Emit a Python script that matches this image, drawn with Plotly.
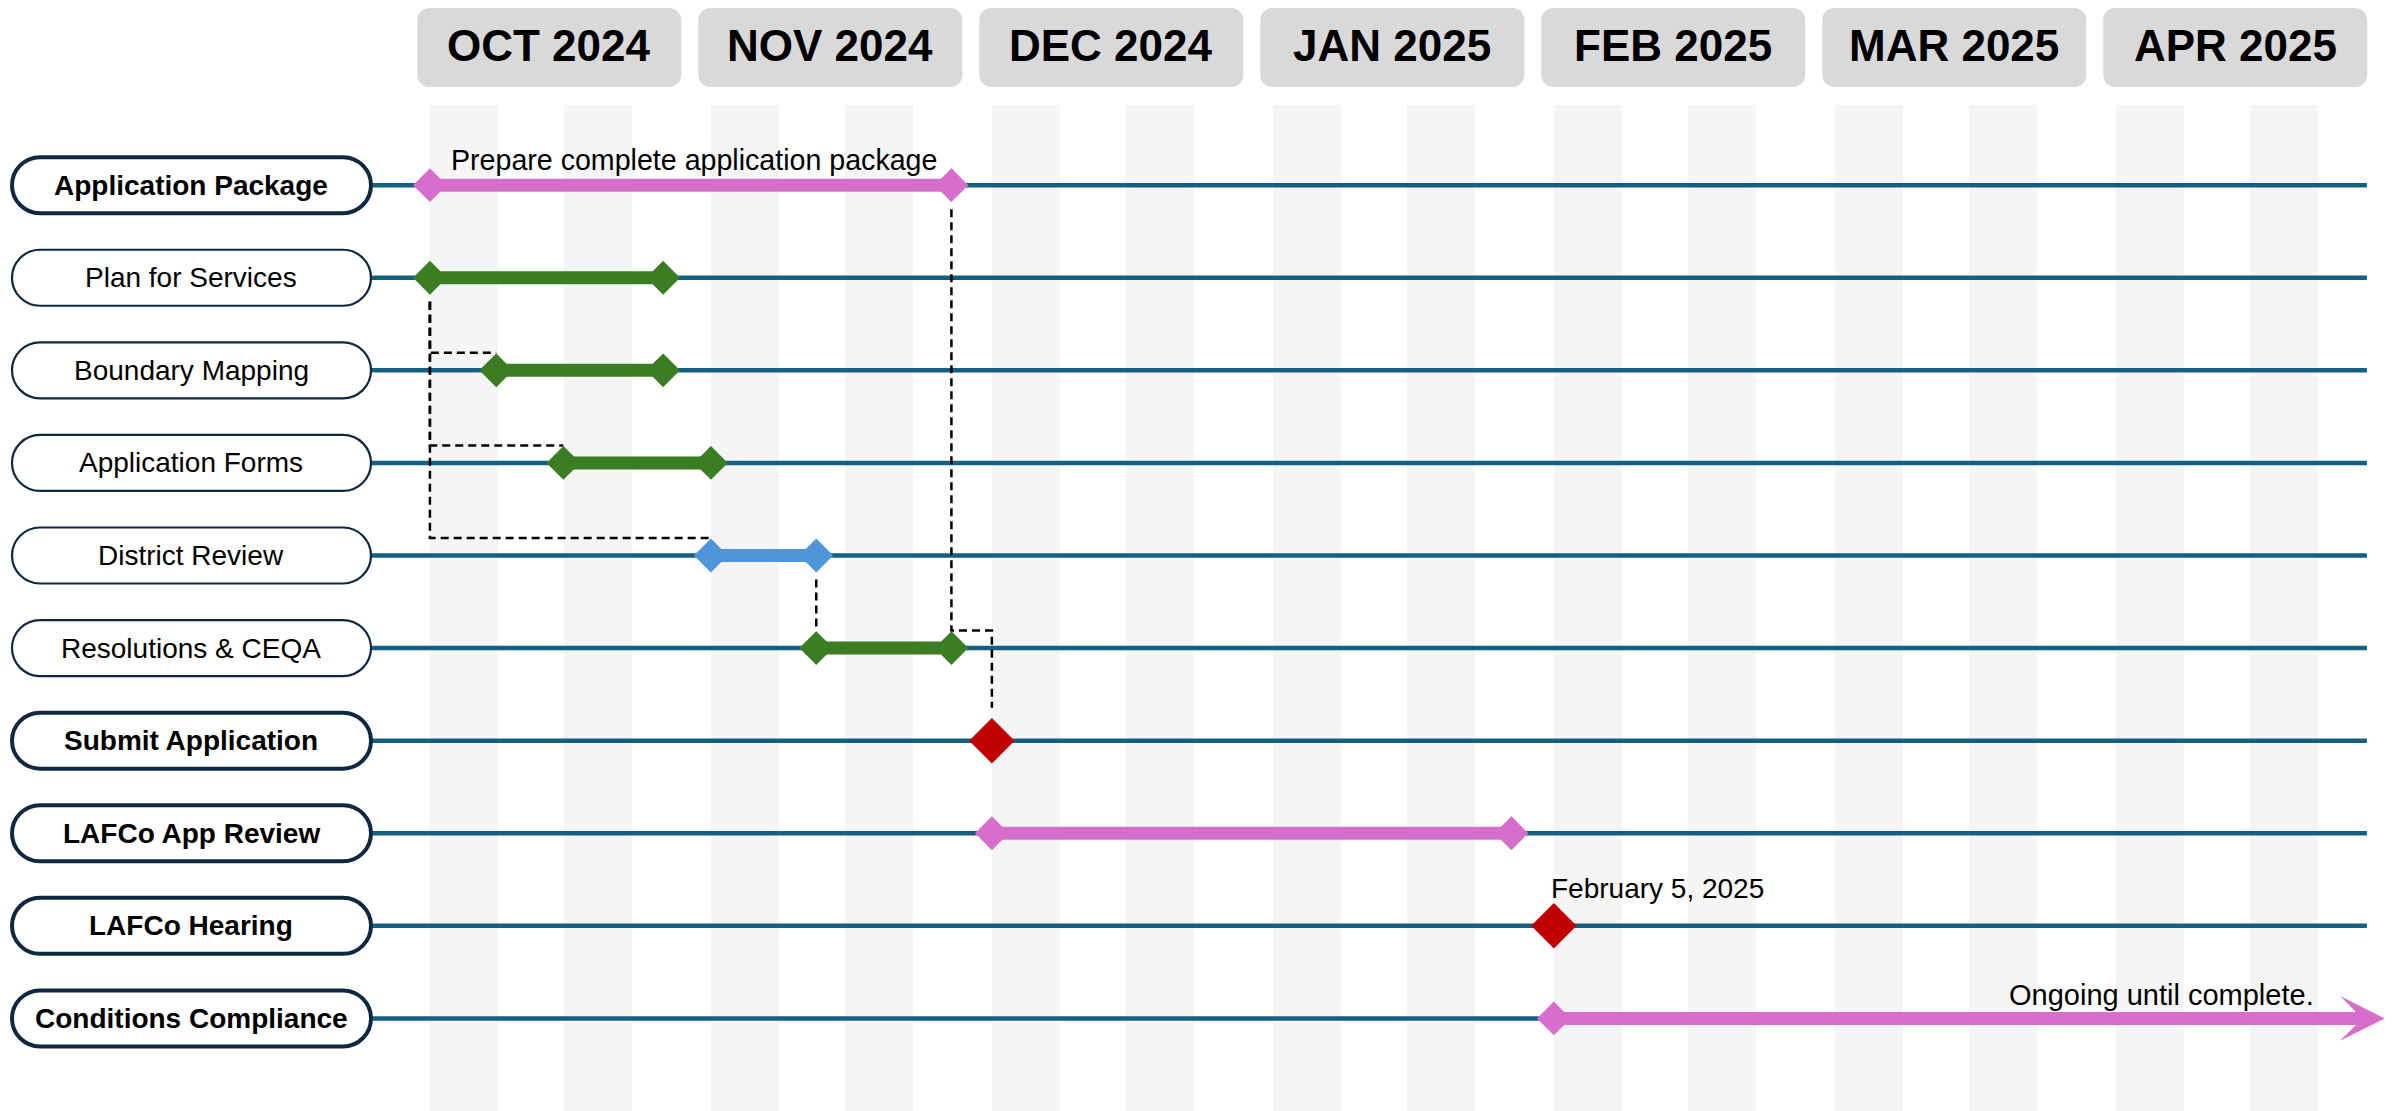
import plotly.graph_objects as go

# ---------------- data ----------------
MONTHS = ["OCT 2024", "NOV 2024", "DEC 2024", "JAN 2025", "FEB 2025", "MAR 2025", "APR 2025"]

ROWS = ["Application Package", "Plan for Services", "Boundary Mapping", "Application Forms",
        "District Review", "Resolutions & CEQA", "Submit Application", "LAFCo App Review",
        "LAFCo Hearing", "Conditions Compliance"]
ROW_BOLD = [True, False, False, False, False, False, True, True, True, True]

# task spans, in months since 1 Oct 2024
TASK_NAMES = ["Application Package", "Plan for Services", "Boundary Mapping", "Application Forms",
              "District Review", "Resolutions & CEQA", "LAFCo App Review", "Conditions Compliance"]
TASK_START = [0.0, 0.0, 0.236, 0.475, 1.0, 1.375, 2.0, 4.0]
TASK_END = [1.856, 0.83, 0.83, 1.0, 1.375, 1.856, 3.849, 6.957]
TASK_COLOR = ["#D86ECC", "#3B7D23", "#3B7D23", "#3B7D23", "#4E95D9", "#3B7D23", "#D86ECC", "#D86ECC"]
TASK_OPEN_END = [False, False, False, False, False, False, False, True]

MILESTONE_NAMES = ["Submit Application", "LAFCo Hearing"]
MILESTONE_AT = [2.0, 4.0]
MILESTONE_COLOR = ["#C00000", "#C00000"]

# dependency links: (from item, which end, to item, which end, row where the elbow turns)
LINKS = [
    ("Plan for Services", "start", "Boundary Mapping", "start", "Boundary Mapping"),
    ("Plan for Services", "start", "Application Forms", "start", "Application Forms"),
    ("Plan for Services", "start", "District Review", "start", "District Review"),
    ("District Review", "end", "Resolutions & CEQA", "start", "Resolutions & CEQA"),
    ("Application Package", "end", "Submit Application", "at", "Resolutions & CEQA"),
]

NOTE_ROWS = ["Application Package", "LAFCo Hearing", "Conditions Compliance"]
NOTE_TEXT = ["Prepare complete application package", "February 5, 2025", "Ongoing until complete."]

# ---------------- geometry / style ----------------
W, H = 2394, 1111
X_RANGE = [-1.53, 6.99]
Y_RANGE = [10.0, -2.0]
ROW_PX = H / (Y_RANGE[0] - Y_RANGE[1])
MONTH_PX = W / (X_RANGE[1] - X_RANGE[0])
FONT = "Liberation Sans, Arial, sans-serif"
TRACK_COLOR = "#156082"
BORDER = "#0E2841"
TRACK_START = (371 - 430) / MONTH_PX
TRACK_END = (2367 - 430) / MONTH_PX


def xpx(u):
    return (u - X_RANGE[0]) / (X_RANGE[1] - X_RANGE[0]) * W


def rowpx(r):
    return (r - Y_RANGE[1]) / (Y_RANGE[0] - Y_RANGE[1]) * H


def P(x, y):
    return f"{x / W:.5f},{1 - y / H:.5f}"


def rounded_rect(x0, y0, x1, y1, r):
    k = 0.5523 * r
    return ("M" + P(x0 + r, y0) + " L" + P(x1 - r, y0) +
            " C" + P(x1 - r + k, y0) + " " + P(x1, y0 + r - k) + " " + P(x1, y0 + r) +
            " L" + P(x1, y1 - r) +
            " C" + P(x1, y1 - r + k) + " " + P(x1 - r + k, y1) + " " + P(x1 - r, y1) +
            " L" + P(x0 + r, y1) +
            " C" + P(x0 + r - k, y1) + " " + P(x0, y1 - r + k) + " " + P(x0, y1 - r) +
            " L" + P(x0, y0 + r) +
            " C" + P(x0, y0 + r - k) + " " + P(x0 + r - k, y0) + " " + P(x0 + r, y0) + " Z")


fig = go.Figure()
shapes = []
annotations = []

# background week stripes
for m in range(len(MONTHS)):
    for a, b in [(0.0, 0.242), (0.477, 0.719)]:
        shapes.append(dict(type="rect", xref="x", yref="paper", x0=m + a, x1=m + b,
                           y0=0, y1=1 - 105 / H, fillcolor="#F5F5F5", line_width=0, layer="below"))

# month header boxes
for m, name in enumerate(MONTHS):
    cx = xpx(m + 0.425)
    shapes.append(dict(type="path", xref="paper", yref="paper",
                       path=rounded_rect(cx - 132, 8, cx + 132, 87, 12),
                       fillcolor="#D9D9D9", line_width=0, layer="below"))
    annotations.append(dict(x=m + 0.425, xref="x", y=1 - 46 / H, yref="paper", text=name,
                            showarrow=False, xanchor="center", yanchor="middle",
                            font=dict(family=FONT, size=44, color="black", weight="bold")))

# row track lines
for i, name in enumerate(ROWS):
    fig.add_trace(go.Scatter(x=[TRACK_START, TRACK_END], y=[i, i], mode="lines",
                             line=dict(color=TRACK_COLOR, width=4.5), hoverinfo="skip"))


# dependency connectors
def endpoint(name, which):
    if name in TASK_NAMES:
        j = TASK_NAMES.index(name)
        return (TASK_START[j] if which == "start" else TASK_END[j]), ROWS.index(name), False
    j = MILESTONE_NAMES.index(name)
    return MILESTONE_AT[j], ROWS.index(name), True


cx_, cy_ = [], []
for fa, fw, ta, tw, erow in LINKS:
    x0, r0, _ = endpoint(fa, fw)
    x1, r1, big = endpoint(ta, tw)
    re_ = ROWS.index(erow)
    y_start = r0 + 24 / ROW_PX
    y_end = r1 - (33 if big else 21) / ROW_PX
    y_elb = re_ - 17.5 / ROW_PX
    if abs(x0 - x1) < 1e-9:
        pts = [(x0, y_start), (x0, y_end)]
    else:
        pts = [(x0, y_start), (x0, y_elb), (x1, y_elb)]
        if re_ != r1:
            pts.append((x1, y_end))
    for px_, py_ in pts:
        cx_.append(px_)
        cy_.append(py_)
    cx_.append(None)
    cy_.append(None)
fig.add_trace(go.Scatter(x=cx_, y=cy_, mode="lines",
                         line=dict(color="black", width=2.5, dash="8px,5px"), hoverinfo="skip"))

# task bars + end diamonds
for j, name in enumerate(TASK_NAMES):
    r = ROWS.index(name)
    end_line = TASK_END[j] - (25 / MONTH_PX if TASK_OPEN_END[j] else 0)
    fig.add_trace(go.Scatter(x=[TASK_START[j], end_line], y=[r, r], mode="lines",
                             line=dict(color=TASK_COLOR[j], width=13), hoverinfo="skip"))
    mx = [TASK_START[j]] if TASK_OPEN_END[j] else [TASK_START[j], TASK_END[j]]
    fig.add_trace(go.Scatter(x=mx, y=[r] * len(mx), mode="markers",
                             marker=dict(symbol="diamond", size=26, color=TASK_COLOR[j], line_width=0),
                             hoverinfo="skip"))
    if TASK_OPEN_END[j]:
        annotations.append(dict(x=TASK_END[j], y=r, xref="x", yref="y",
                                ax=TASK_END[j] - 0.3, ay=r, axref="x", ayref="y",
                                text="", showarrow=True, arrowhead=3, arrowsize=0.62,
                                arrowwidth=12, arrowcolor=TASK_COLOR[j]))

# milestones
for j, name in enumerate(MILESTONE_NAMES):
    r = ROWS.index(name)
    fig.add_trace(go.Scatter(x=[MILESTONE_AT[j]], y=[r], mode="markers",
                             marker=dict(symbol="diamond", size=35, color=MILESTONE_COLOR[j], line_width=0),
                             hoverinfo="skip"))

# notes
note_style = {
    "Application Package": dict(x=TASK_START[TASK_NAMES.index("Application Package")], xanchor="left",
                                xshift=19, yshift=25, size=28.6),
    "LAFCo Hearing": dict(x=MILESTONE_AT[MILESTONE_NAMES.index("LAFCo Hearing")], xanchor="left",
                          xshift=-5, yshift=37, size=28),
    "Conditions Compliance": dict(x=TASK_END[TASK_NAMES.index("Conditions Compliance")], xanchor="right",
                                  xshift=-69, yshift=23, size=29),
}
for name, txt in zip(NOTE_ROWS, NOTE_TEXT):
    st = note_style[name]
    annotations.append(dict(x=st["x"], y=ROWS.index(name), xref="x", yref="y", text=txt,
                            showarrow=False, xanchor=st["xanchor"], yanchor="middle",
                            xshift=st["xshift"], yshift=st["yshift"],
                            font=dict(family=FONT, size=st["size"], color="black")))

# row label pills
for i, name in enumerate(ROWS):
    yc = rowpx(i)
    shapes.append(dict(type="path", xref="paper", yref="paper",
                       path=rounded_rect(12, yc - 28, 371, yc + 28, 28),
                       fillcolor="white", line=dict(color=BORDER, width=4 if ROW_BOLD[i] else 2.2),
                       layer="above"))
    annotations.append(dict(x=191 / W, xref="paper", y=i, yref="y", text=name, showarrow=False,
                            xanchor="center", yanchor="middle",
                            font=dict(family=FONT, size=28, color="black",
                                      weight="bold" if ROW_BOLD[i] else "normal")))

fig.update_layout(
    width=W, height=H, margin=dict(l=0, r=0, t=0, b=0),
    paper_bgcolor="white", plot_bgcolor="white", showlegend=False,
    xaxis=dict(range=X_RANGE, visible=False, fixedrange=True),
    yaxis=dict(range=Y_RANGE, visible=False, fixedrange=True),
    shapes=shapes, annotations=annotations,
)

fig.write_html("out.html", config={"displayModeBar": False},
               post_script="document.body.style.margin='0';document.body.style.overflow='hidden';")
